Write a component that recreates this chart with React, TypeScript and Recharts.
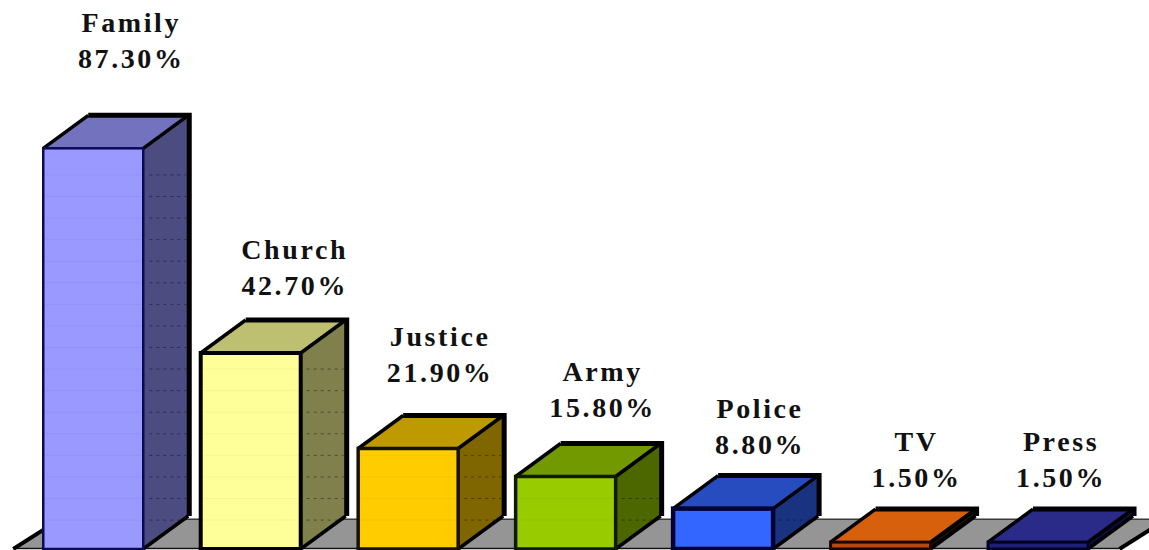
import { Bar, BarChart, LabelList, ReferenceArea, XAxis, YAxis } from "recharts";

const categories = ["Family", "Church", "Justice", "Army", "Police", "TV", "Press"];
const shares = [87.3, 42.7, 21.9, 15.8, 8.8, 1.5, 1.5];

// wall rulings that show through the boxes, in axis units
const rulings = [
  6.3, 11, 15.7, 20.4, 25.1, 29.8, 34.5, 39.2, 43.9, 48.6, 53.3, 58, 62.7, 67.4, 72.1, 76.8, 81.5,
];

const frontColors = ["#9999ff", "#ffff99", "#ffcc00", "#99cc00", "#3366ff", "#b8480f", "#1f1f78"];
const topColors = ["#7272bf", "#bfbf72", "#bf9900", "#729900", "#264cbf", "#d6600c", "#2a2a88"];
const sideColors = ["#4c4c80", "#80804c", "#806600", "#4c6600", "#1a3380", "#1a0d05", "#0c0c40"];
const edgeColors = ["#0a0a55", "#000000", "#1a1000", "#0f1a00", "#000033", "#1a0500", "#000022"];
const edgeWidths = [2.5, 4, 3.5, 3.5, 4.5, 3, 3];

// label placement relative to the top centre of each front face
const labelDx = [37, 43, 31, 36, 36, 35, 22];
const labelDy = [-80, -58, -66, -59, -55, -55, -55];

const rows = categories.map((name, i) => ({ name, share: shares[i] }));

const DEPTH_X = 45;
const DEPTH_Y = 33;
const FLOOR_SKEW = 47;
const LABEL_FONT = '"Liberation Serif", "Times New Roman", serif';

function Box(props: any) {
  const { x, y, width, height, index } = props;
  const right = x + width;
  const bottom = y + height;
  const pxPerUnit = height / shares[index];
  const stroke = edgeColors[index];
  const sw = edgeWidths[index];
  const lines = rulings
    .map((r) => bottom - r * pxPerUnit)
    .filter((ly) => ly > y + 4);

  return (
    <g>
      {/* side face */}
      <polygon
        points={`${right},${y} ${right + DEPTH_X},${y - DEPTH_Y} ${right + DEPTH_X},${bottom - DEPTH_Y} ${right},${bottom}`}
        fill={sideColors[index]}
      />
      {lines.map((ly) => (
        <line
          key={`s${ly}`}
          x1={right + 6}
          x2={right + DEPTH_X - 2}
          y1={ly}
          y2={ly}
          stroke="#000"
          strokeOpacity={0.4}
          strokeDasharray="3 4"
        />
      ))}
      {/* top face */}
      <polygon
        points={`${x},${y} ${x + DEPTH_X},${y - DEPTH_Y} ${right + DEPTH_X},${y - DEPTH_Y} ${right},${y}`}
        fill={topColors[index]}
      />
      {/* heavy back outline */}
      <polyline
        points={`${x + DEPTH_X},${y - DEPTH_Y} ${right + DEPTH_X + 1},${y - DEPTH_Y} ${right + DEPTH_X + 1},${bottom - DEPTH_Y}`}
        fill="none"
        stroke="#000"
        strokeWidth={5}
      />
      {/* receding edges */}
      <line x1={x} y1={y} x2={x + DEPTH_X} y2={y - DEPTH_Y} stroke="#000" strokeWidth={3.5} />
      <line x1={right} y1={y} x2={right + DEPTH_X} y2={y - DEPTH_Y} stroke="#000" strokeWidth={3.5} />
      <line x1={right} y1={bottom} x2={right + DEPTH_X} y2={bottom - DEPTH_Y} stroke="#000" strokeWidth={3.5} />
      {/* front face */}
      <rect x={x} y={y} width={width} height={height} fill={frontColors[index]} stroke={stroke} strokeWidth={sw} />
      {lines.map((ly) => (
        <line
          key={`f${ly}`}
          x1={x + 2}
          x2={right - 2}
          y1={ly}
          y2={ly}
          stroke="#000"
          strokeOpacity={0.04}
        />
      ))}
    </g>
  );
}

function Floor(props: any) {
  const { x, y, width, height } = props;
  const bottom = y + height;
  const end = x + width + 3;
  return (
    <g>
      <polygon
        points={`${x - 1},${bottom} ${x - 1 + FLOOR_SKEW},${y} ${end + FLOOR_SKEW},${y} ${end},${bottom}`}
        fill="#959595"
      />
      <line x1={x + FLOOR_SKEW - 1} x2={end + FLOOR_SKEW} y1={y} y2={y} stroke="#3a3a3a" strokeWidth={1.5} />
      <line x1={x - 1} x2={end} y1={bottom - 0.5} y2={bottom - 0.5} stroke="#111" strokeWidth={1.5} />
      <line x1={x - 1} y1={bottom} x2={x - 1 + FLOOR_SKEW} y2={y} stroke="#000" strokeWidth={4} />
      <line x1={end} y1={bottom} x2={end + FLOOR_SKEW} y2={y} stroke="#000" strokeWidth={4} />
    </g>
  );
}

function BoxLabel(props: any) {
  const { x, y, width, index } = props;
  const cx = x + width / 2 + labelDx[index] + 1;
  const baseline = y + labelDy[index];
  return (
    <text
      textAnchor="middle"
      fontFamily={LABEL_FONT}
      fontWeight={700}
      fontSize={28}
      letterSpacing={2.6}
      fill="#111"
    >
      <tspan x={cx} y={baseline - 36}>
        {categories[index]}
      </tspan>
      <tspan x={cx} y={baseline}>
        {`${shares[index].toFixed(2)}%`}
      </tspan>
    </text>
  );
}

export default function App() {
  return (
    <div style={{ position: "absolute", left: 0, top: 0, width: 1149, height: 550, background: "#fff" }}>
      <BarChart
        width={1149}
        height={550}
        data={rows}
        margin={{ top: 90, right: 32.5, bottom: 1, left: 14.25 }}
      >
        <XAxis dataKey="name" hide />
        <YAxis domain={[0, 100]} hide />
        <ReferenceArea y1={0} y2={6.5} ifOverflow="visible" shape={<Floor />} />
        <Bar dataKey="share" barSize={100} shape={<Box />} isAnimationActive={false}>
          <LabelList dataKey="share" content={<BoxLabel />} />
        </Bar>
      </BarChart>
    </div>
  );
}
